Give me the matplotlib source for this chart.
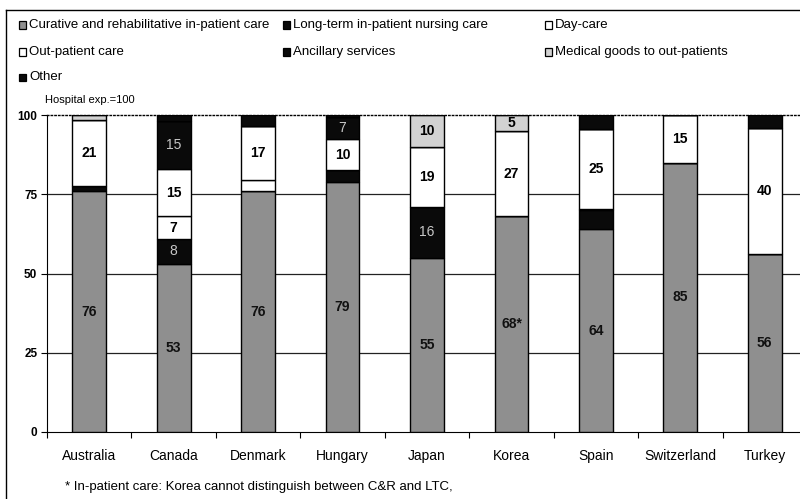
import numpy as np
import matplotlib.pyplot as plt
from matplotlib.patches import Rectangle
from matplotlib.lines import Line2D

plt.rcParams['font.family'] = ['Liberation Sans', 'DejaVu Sans']

# Data (hospital expenditure = 100)
countries = ['Australia', 'Canada', 'Denmark', 'Hungary', 'Japan',
             'Korea', 'Spain', 'Switzerland', 'Turkey']
curative = [76, 53, 76, 79, 55, 68, 64, 85, 56]
long_term = [1.5, 8, 0, 3.5, 16, 0, 6, 0, 0]
day_care = [0, 7, 3.5, 0, 0, 0, 0.5, 0, 0]
out_patient = [21, 15, 17, 10, 19, 27, 25, 15, 40]
ancillary = [0, 15, 0, 7, 0, 0, 0, 0, 0]
medical_goods = [1.5, 0, 0, 0, 10, 5, 0, 0, 0]
other = [0, 2, 3.5, 0.5, 0, 0, 4.5, 0, 4]

series_names = ['Curative and rehabilitative in-patient care',
                'Long-term in-patient nursing care', 'Day-care',
                'Out-patient care', 'Ancillary services',
                'Medical goods to out-patients', 'Other']
series = [curative, long_term, day_care, out_patient, ancillary,
          medical_goods, other]
fills = ['#8f8f8f', '#0a0a0a', 'white', 'white', '#0a0a0a', '#d2d2d2', '#0a0a0a']
text_cols = ['#111111', '#c8c8c8', 'black', 'black', '#c8c8c8', 'black', '#c8c8c8']
dark = [False, True, False, False, True, False, True]

W, H = 800, 499
fig = plt.figure(figsize=(8, 4.99), dpi=100)

def fx(px):
    return px / W

def fy(py):
    return 1 - py / H

ax = fig.add_axes([fx(47), fy(432), fx(807) - fx(47), fy(115) - fy(432)])

x = np.arange(len(countries))
bottom = np.zeros(len(countries))
for k, vals in enumerate(series):
    vals = np.array(vals, dtype=float)
    ax.bar(x, vals, 0.40, bottom=bottom, color=fills[k], edgecolor='black',
           linewidth=1.0, zorder=3)
    for i, v in enumerate(vals):
        # small black segments carry no label in the original
        if v >= 7 or (v >= 5 and not dark[k]):
            lab = '%d' % v
            if k == 0 and countries[i] == 'Korea':
                lab += '*'
            ax.text(x[i], bottom[i] + v / 2, lab, ha='center', va='center',
                    fontsize=10, color=text_cols[k], zorder=4,
                    fontweight='normal' if dark[k] else 'bold')
    bottom += vals

# gridlines and frame
for g in [25, 50, 75]:
    ax.axhline(g, color='#222222', linewidth=0.9, zorder=1)
ax.set_ylim(0, 100)
ax.set_xlim(-0.5, len(countries) - 0.5)
ax.spines['top'].set_linestyle(':')
ax.spines['top'].set_linewidth(1.0)
ax.spines['right'].set_visible(False)

ax.set_yticks([0, 25, 50, 75, 100])
ax.set_yticklabels(['0', '25', '50', '75', '100'], fontweight='bold', fontsize=8.5)
ax.set_xticks(np.arange(len(countries) + 1) - 0.5)
ax.set_xticklabels([])
ax.set_xticks(x, minor=True)
ax.set_xticklabels(countries, minor=True, fontsize=10)
ax.tick_params(axis='x', which='major', direction='out', length=4)
ax.tick_params(axis='x', which='minor', length=0, pad=12)
ax.tick_params(axis='y', direction='out', length=4, pad=3)

# legend drawn by hand (three columns)
leg_pos = [(22, 25), (286, 25), (548, 25),
           (22, 52), (286, 52), (548, 52),
           (22, 77)]
for k, (px, py) in enumerate(leg_pos):
    fig.add_artist(Rectangle((fx(px - 3.5), fy(py + 3.5)), fx(7), fy(py - 3.5) - fy(py + 3.5),
                             facecolor=fills[k], edgecolor='black', linewidth=0.9,
                             transform=fig.transFigure))
    fig.text(fx(px + 7), fy(py), series_names[k], fontsize=9.5, va='center', ha='left')

fig.text(fx(45), fy(100), 'Hospital exp.=100', fontsize=8, va='center', ha='left')
fig.text(fx(65), fy(487), '* In-patient care: Korea cannot distinguish between C&R and LTC,',
         fontsize=9.5, va='center', ha='left')

# outer frame of the original figure
fig.add_artist(Line2D([fx(6), fx(800)], [fy(10), fy(10)], color='black', linewidth=1.0,
                      transform=fig.transFigure))
fig.add_artist(Line2D([fx(6), fx(6)], [fy(10), fy(499)], color='black', linewidth=1.0,
                      transform=fig.transFigure))

plt.savefig('out.png', dpi=100)
